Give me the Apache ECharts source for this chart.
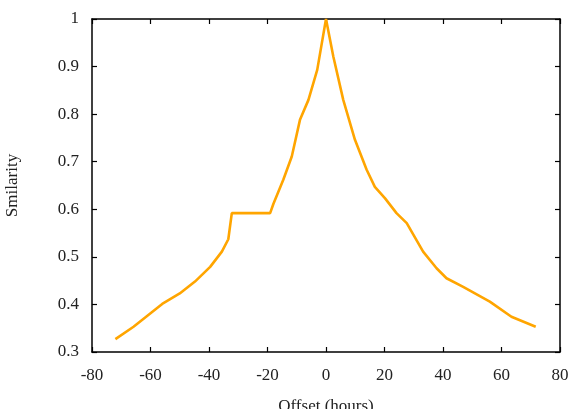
<!DOCTYPE html>
<html>
<head>
<meta charset="utf-8">
<script src="https://cdn.jsdelivr.net/npm/echarts@6/dist/echarts.min.js"></script>
<style>
  html, body { margin: 0; padding: 0; background: #fff; }
  #chart { width: 575px; height: 409px; }
</style>
</head>
<body>
<div id="chart"></div>
<script>
// offset in hours vs. similarity
const offsets = [-72, -65.8, -56, -50, -44.8, -39.6, -35.6, -33.4, -32.2, -19.1, -18, -14.6, -11.7, -8.9, -6, -3, 0,
                 2.5, 5.9, 9.9, 13.9, 16.7, 20.2, 24.1, 27.6, 33.2, 37.8, 41.2, 46.9, 56, 63.4, 71.7];
const similarity = [0.327, 0.353, 0.401, 0.423, 0.448, 0.479, 0.511, 0.537, 0.592, 0.592, 0.611, 0.662, 0.711, 0.788, 0.83, 0.893, 1.0,
                    0.921, 0.83, 0.746, 0.683, 0.647, 0.623, 0.592, 0.571, 0.511, 0.476, 0.455, 0.437, 0.406, 0.374, 0.353];
const xTicks = [-80, -60, -40, -20, 0, 20, 40, 60, 80];
const yTicks = [0.3, 0.4, 0.5, 0.6, 0.7, 0.8, 0.9, 1];

const font = '"Liberation Serif", "DejaVu Serif", serif';
const chart = echarts.init(document.getElementById('chart'), null, { renderer: 'canvas' });

const axisBase = {
    axisLine: { show: true, onZero: false, lineStyle: { color: '#000', width: 1.5 } },
    axisTick: { show: true, inside: true, length: 5, lineStyle: { color: '#000', width: 1.2 } },
    splitLine: { show: false }
};

chart.setOption({
    animation: false,
    backgroundColor: '#fff',
    grid: { left: 92, right: 15, top: 19, bottom: 57, containLabel: false, outerBoundsMode: 'none' },
    xAxis: [
        Object.assign({}, axisBase, {
            type: 'value', min: -80, max: 80, interval: 20, position: 'bottom',
            name: 'Offset (hours)', nameLocation: 'middle', nameGap: 46,
            nameTextStyle: { fontFamily: font, fontSize: 17, color: '#222' },
            axisLabel: { fontFamily: font, fontSize: 17, color: '#222', margin: 15,
                formatter: v => xTicks.includes(v) ? String(v) : '' }
        }),
        Object.assign({}, axisBase, {
            type: 'value', min: -80, max: 80, interval: 20, position: 'top',
            axisLabel: { show: false }
        })
    ],
    yAxis: [
        Object.assign({}, axisBase, {
            type: 'value', min: 0.3, max: 1, interval: 0.1, position: 'left',
            name: 'Smilarity', nameLocation: 'middle', nameGap: 71, nameRotate: 90,
            nameTextStyle: { fontFamily: font, fontSize: 17, color: '#222' },
            axisLabel: { fontFamily: font, fontSize: 17, color: '#222', margin: 13,
                formatter: v => {
                    const r = Math.round(v * 10) / 10;
                    return yTicks.includes(r) ? String(r) : '';
                } }
        }),
        Object.assign({}, axisBase, {
            type: 'value', min: 0.3, max: 1, interval: 0.1, position: 'right',
            axisLabel: { show: false }
        })
    ],
    series: [{
        type: 'line',
        xAxisIndex: 0,
        yAxisIndex: 0,
        data: offsets.map((x, i) => [x, similarity[i]]),
        showSymbol: false,
        smooth: false,
        lineStyle: { color: '#FFA500', width: 2.6 }
    }]
});
</script>
</body>
</html>
